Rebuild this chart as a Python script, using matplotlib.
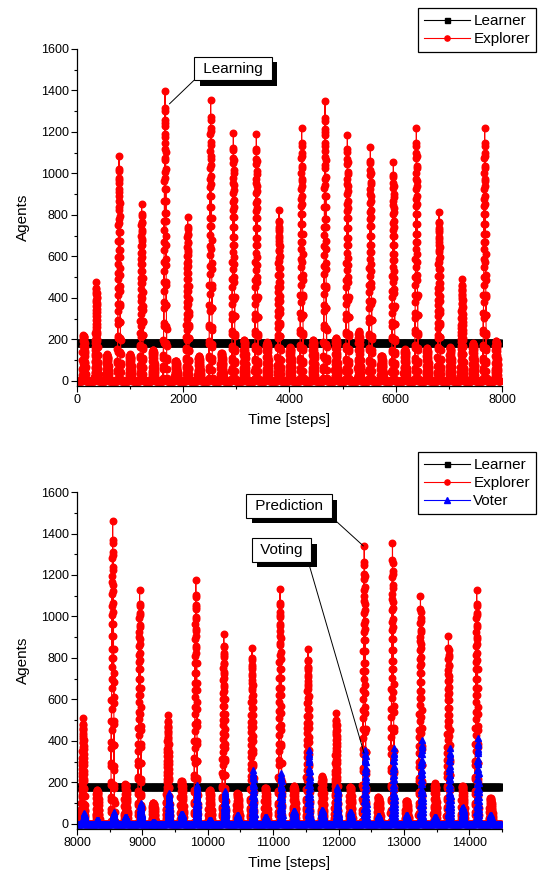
import numpy as np
import matplotlib.pyplot as plt
from matplotlib import patheffects
from matplotlib.ticker import MultipleLocator

plt.rcParams['font.family'] = ['Liberation Sans', 'DejaVu Sans']

# ---------------- data ----------------
learner_level = 180

# top panel: 0 .. 8000 steps
top_end = 7970
top_spike_t = [364, 791, 1217, 1657, 2083, 2516, 2943, 3376, 3803,
               4229, 4669, 5089, 5522, 5955, 6388, 6815, 7248, 7674]
top_spike_peak = [475, 1086, 853, 1398, 789, 1353, 1194, 1189, 822,
                  1219, 1349, 1187, 1128, 1057, 1219, 816, 490, 1219]
top_hump_t = [130, 570, 1004, 1437, 1866, 2300, 2728, 3154, 3583, 4018,
              4452, 4880, 5312, 5740, 6179, 6596, 7032, 7462, 7895]
top_hump_peak = [220, 127, 127, 150, 96, 119, 133, 198, 186, 161,
                 198, 208, 238, 121, 152, 158, 161, 181, 193]

# bottom panel: 8000 .. 14500 steps
bot_start, bot_end = 8000, 14490
bot_spike_t = [8092, 8545, 8957, 9390, 9817, 10245, 10677, 11105,
               11532, 11965, 12393, 12825, 13253, 13681, 14113]
bot_spike_peak = [513, 1458, 1129, 526, 1175, 915, 849, 1134,
                  843, 534, 1341, 1354, 1101, 904, 1129]
bot_hump_t = [8315, 8748, 9171, 9606, 10036, 10461, 10890, 11324,
              11755, 12186, 12616, 13046, 13480, 13903, 14331]
bot_hump_peak = [164, 192, 102, 208, 164, 148, 175, 183,
                 230, 180, 129, 112, 196, 184, 124]
bot_vote_spike_peak = [53, 58, 100, 150, 188, 160, 260, 248,
                       357, 178, 357, 365, 405, 365, 413]
bot_vote_hump_peak = [20, 35, 10, 50, 20, 42, 35, 64,
                      68, 58, 40, 42, 35, 80, 42]

# relative profile of one burst (the line runs up and down inside a column)
spike_shape = [0.00, 0.04, 0.01, 0.09, 0.05, 0.14, 0.08, 0.20, 0.13, 0.27,
               0.19, 0.34, 0.25, 0.41, 0.31, 0.48, 0.38, 0.55, 0.45, 0.62,
               0.52, 0.69, 0.58, 0.76, 0.66, 0.82, 0.72, 0.88, 0.80, 0.94,
               1.00, 0.90, 0.93, 0.84, 0.89, 0.77, 0.85, 0.70, 0.79, 0.62,
               0.73, 0.55, 0.66, 0.47, 0.58, 0.40, 0.50, 0.33, 0.42, 0.26,
               0.34, 0.19, 0.26, 0.13, 0.18, 0.08, 0.12, 0.04, 0.07, 0.01, 0.00]
hump_shape = [0.00, 0.25, 0.05, 0.45, 0.12, 0.62, 0.20, 0.76, 0.30, 0.87,
              0.10, 0.94, 0.40, 0.98, 0.22, 1.00, 0.55, 0.99, 0.35, 0.97,
              0.65, 0.95, 0.15, 0.92, 0.45, 0.88, 0.28, 0.82, 0.60, 0.74,
              0.18, 0.65, 0.40, 0.55, 0.08, 0.42, 0.25, 0.30, 0.05, 0.15, 0.00]
vote_shape = [0.00, 0.06, 0.02, 0.14, 0.07, 0.22, 0.12, 0.31, 0.20, 0.41,
              0.28, 0.52, 0.37, 0.63, 0.47, 0.74, 0.58, 0.85, 0.70, 0.94,
              1.00, 0.88, 0.92, 0.76, 0.83, 0.64, 0.72, 0.52, 0.60, 0.41,
              0.48, 0.31, 0.37, 0.22, 0.27, 0.14, 0.18, 0.07, 0.10, 0.02, 0.00]


def build_series(start, end, events, step=8):
    """zero baseline with bursts placed at the given centres"""
    t = np.arange(start, end + 1, step, dtype=float)
    keep = np.ones(len(t), bool)
    ts, ys = [], []
    for centers, peaks, shape, half in events:
        offs = np.linspace(-half, half, len(shape))
        for c, p in zip(centers, peaks):
            keep &= np.abs(t - c) > half
            ts.append(c + offs)
            ys.append(p * np.asarray(shape))
    ts.append(t[keep])
    ys.append(np.zeros(keep.sum()))
    t = np.concatenate(ts)
    y = np.concatenate(ys)
    order = np.argsort(t, kind='stable')
    return t[order], y[order]


top_exp_t, top_exp_y = build_series(0, top_end, [
    (top_spike_t, top_spike_peak, spike_shape, 36),
    (top_hump_t, top_hump_peak, hump_shape, 36)])
bot_exp_t, bot_exp_y = build_series(bot_start, bot_end, [
    (bot_spike_t, bot_spike_peak, spike_shape, 32),
    (bot_hump_t, bot_hump_peak, hump_shape, 32)])
bot_vote_t, bot_vote_y = build_series(bot_start, bot_end, [
    ([t + 18 for t in bot_spike_t], bot_vote_spike_peak, vote_shape, 26),
    (bot_hump_t, bot_vote_hump_peak, hump_shape, 24)])

top_learn_t = np.arange(0, top_end + 1, 10)
bot_learn_t = np.arange(bot_start, bot_end + 1, 10)

# ---------------- figure ----------------
fig = plt.figure(figsize=(5.4, 8.8), dpi=100)
ax1 = fig.add_axes([0.1426, 0.5614, 0.787, 0.383])
ax2 = fig.add_axes([0.1426, 0.0585, 0.787, 0.3824])

line_kw = dict(lw=0.8, markersize=4.7)

for ax in (ax1, ax2):
    for s in ('top', 'right'):
        ax.spines[s].set_visible(False)
    for s in ('left', 'bottom'):
        ax.spines[s].set_linewidth(0.9)
    ax.tick_params(which='major', direction='out', length=4, width=0.8,
                   labelsize=9, pad=2)
    ax.tick_params(which='minor', direction='out', length=2.3, width=0.8)
    ax.yaxis.set_major_locator(MultipleLocator(200))
    ax.yaxis.set_minor_locator(MultipleLocator(100))
    ax.set_ylabel('Agents', fontsize=11, labelpad=8)
    ax.set_xlabel('Time [steps]', fontsize=11, labelpad=5)

# top panel
ax1.plot(top_learn_t, np.full(len(top_learn_t), learner_level), color='black',
         marker='s', markersize=4.5, lw=0.8, label='Learner')
ax1.plot(top_exp_t, top_exp_y, color='red', marker='o', label='Explorer', **line_kw)
ax1.set_xlim(0, 8000)
ax1.set_ylim(-25, 1600)
ax1.xaxis.set_major_locator(MultipleLocator(2000))
ax1.xaxis.set_minor_locator(MultipleLocator(1000))

# bottom panel
ax2.plot(bot_learn_t, np.full(len(bot_learn_t), learner_level), color='black',
         marker='s', markersize=4.5, lw=0.8, label='Learner')
ax2.plot(bot_exp_t, bot_exp_y, color='red', marker='o', label='Explorer', **line_kw)
ax2.plot(bot_vote_t, bot_vote_y, color='blue', marker='^', label='Voter', **line_kw)
ax2.set_xlim(8000, 14500)
ax2.set_ylim(-22, 1600)
ax2.xaxis.set_major_locator(MultipleLocator(1000))
ax2.xaxis.set_minor_locator(MultipleLocator(500))

leg_kw = dict(loc='upper right', bbox_transform=fig.transFigure, fontsize=11,
              frameon=True, fancybox=False, framealpha=1, edgecolor='black',
              borderpad=0.4, labelspacing=0.27, handlelength=3.0,
              handletextpad=0.2, borderaxespad=0, markerscale=0.8)
l1 = ax1.legend(bbox_to_anchor=(536 / 540, 1 - 8 / 880), **leg_kw)
l2 = ax2.legend(bbox_to_anchor=(536 / 540, 1 - 452 / 880), **leg_kw)
for lg in (l1, l2):
    lg.get_frame().set_linewidth(0.9)


def callout(ax, text, xy, box_px, relpos):
    ann = ax.annotate(text, xy=xy, xycoords='data', xytext=box_px,
                      textcoords='figure pixels', ha='center', va='center',
                      fontsize=11,
                      bbox=dict(boxstyle='square,pad=0.3', fc='white',
                                ec='black', lw=0.8),
                      arrowprops=dict(arrowstyle='-', color='black', lw=0.7,
                                      shrinkA=0, shrinkB=0, relpos=relpos))
    ann.get_bbox_patch().set_path_effects([
        patheffects.SimplePatchShadow(offset=(4, -4), shadow_rgbFace='black',
                                      alpha=1.0),
        patheffects.Normal()])
    return ann


callout(ax1, ' Learning ', (1740, 1335), (233, 880 - 68.5), (0, 0))
callout(ax2, ' Prediction ', (12380, 1340), (289, 880 - 506), (1, 0))
callout(ax2, ' Voting ', (12390, 342), (281.5, 880 - 550), (1, 0))

fig.savefig('out.png', dpi=100)
